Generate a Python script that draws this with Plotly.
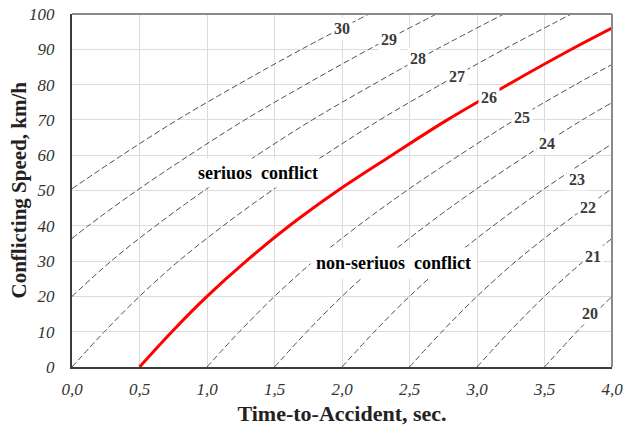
import plotly.graph_objects as go

# Red boundary curve (severity 26): Time-to-Accident vs conflicting speed
ta_26 = [0.50, 0.74, 1.00, 1.29, 1.61, 1.97, 2.37, 2.78, 3.23, 3.70, 4.00]
speed_26 = [0, 10, 20, 30, 40, 50, 60, 70, 80, 90, 96]

# Dashed severity curves
ta_30 = [0.00, 0.37, 0.78, 1.23, 1.70, 2.20]
speed_30 = [50.5, 60, 70, 80, 90, 100]
ta_29 = [0.00, 0.12, 0.48, 0.87, 1.28, 1.73, 2.20, 2.70]
speed_29 = [36.4, 40, 50, 60, 70, 80, 90, 100]
ta_28 = [0.00, 0.29, 0.62, 0.98, 1.37, 1.78, 2.23, 2.70, 3.20]
speed_28 = [20, 30, 40, 50, 60, 70, 80, 90, 100]
ta_27 = [0.00, 0.24, 0.50, 0.79, 1.12, 1.48, 1.87, 2.28, 2.73, 3.20, 3.70]
speed_27 = [0, 10, 20, 30, 40, 50, 60, 70, 80, 90, 100]
ta_25 = [1.00, 1.24, 1.50, 1.79, 2.12, 2.48, 2.87, 3.28, 3.73, 4.00]
speed_25 = [0, 10, 20, 30, 40, 50, 60, 70, 80, 85.7]
ta_24 = [1.50, 1.74, 2.00, 2.29, 2.62, 2.98, 3.37, 3.78, 4.00]
speed_24 = [0, 10, 20, 30, 40, 50, 60, 70, 74.9]
ta_23 = [2.00, 2.24, 2.50, 2.79, 3.12, 3.48, 3.87, 4.00]
speed_23 = [0, 10, 20, 30, 40, 50, 60, 63.2]
ta_22 = [2.50, 2.74, 3.00, 3.29, 3.62, 3.98, 4.00]
speed_22 = [0, 10, 20, 30, 40, 50, 50.5]
ta_21 = [3.00, 3.24, 3.50, 3.79, 4.00]
speed_21 = [0, 10, 20, 30, 36.4]
ta_20 = [3.50, 3.74, 4.00]
speed_20 = [0, 10, 20]

dashed_curves = [
    (ta_30, speed_30), (ta_29, speed_29), (ta_28, speed_28), (ta_27, speed_27),
    (ta_25, speed_25), (ta_24, speed_24), (ta_23, speed_23), (ta_22, speed_22),
    (ta_21, speed_21), (ta_20, speed_20),
]

# Curve label texts and their positions
label_texts = ["30", "29", "28", "27", "26", "25", "24", "23", "22", "21", "20"]
label_ta = [2.00, 2.35, 2.565, 2.85, 3.09, 3.33, 3.52, 3.74, 3.82, 3.86, 3.84]
label_speed = [96.0, 92.8, 87.4, 82.2, 76.4, 70.7, 63.4, 53.0, 45.2, 31.4, 15.2]

x_ticks = [0.0, 0.5, 1.0, 1.5, 2.0, 2.5, 3.0, 3.5, 4.0]
y_ticks = [0, 10, 20, 30, 40, 50, 60, 70, 80, 90, 100]

SERIF = "Liberation Serif, Times New Roman, serif"

fig = go.Figure()
for ta, sp in dashed_curves:
    fig.add_trace(go.Scatter(
        x=ta, y=sp, mode="lines", line_shape="spline",
        line=dict(color="#505050", width=1, dash="6px,3px"),
        hoverinfo="skip", showlegend=False))

fig.add_trace(go.Scatter(
    x=ta_26, y=speed_26, mode="lines", line_shape="spline",
    line=dict(color="#ff0000", width=3),
    showlegend=False))

annotations = []
for t, xa, ya in zip(label_texts, label_ta, label_speed):
    annotations.append(dict(
        x=xa, y=ya, xref="x", yref="y", text="<b>%s</b>" % t, showarrow=False,
        font=dict(family=SERIF, size=16, color="#3a3a3a"),
        bgcolor="white", borderpad=2))

annotations.append(dict(
    x=1.38, y=55.0, xref="x", yref="y", text="<b>seriuos&nbsp;&nbsp;conflict</b>",
    showarrow=False, font=dict(family=SERIF, size=18, color="black"),
    bgcolor="white", borderpad=4))
annotations.append(dict(
    x=2.385, y=29.5, xref="x", yref="y", text="<b>non-seriuos&nbsp;&nbsp;conflict</b>",
    showarrow=False, font=dict(family=SERIF, size=18, color="black"),
    bgcolor="white", borderpad=5))

# Y-axis title as a rotated annotation for precise placement
annotations.append(dict(
    x=-0.1, y=0.5, xref="paper", yref="paper",
    text="<b>Conflicting Speed, km/h</b>", textangle=-90, showarrow=False,
    xanchor="center", yanchor="middle",
    font=dict(family=SERIF, size=21, color="#222222")))

shapes = [
    dict(type="line", xref="paper", yref="paper", x0=0, x1=1, y0=1, y1=1,
         line=dict(color="#8a8a8a", width=2)),
    dict(type="line", xref="paper", yref="paper", x0=1, x1=1, y0=0, y1=1,
         line=dict(color="#8a8a8a", width=2)),
]

fig.update_layout(
    width=625, height=426,
    margin=dict(l=72, r=13, t=14, b=59),
    paper_bgcolor="white", plot_bgcolor="white",
    separators=", ",
    annotations=annotations,
    shapes=shapes,
    xaxis=dict(
        range=[0, 4.0], tickvals=x_ticks, tickformat=".1f",
        showgrid=True, gridcolor="#dcdcdc", gridwidth=1,
        showline=True, linecolor="#3c3c3c", linewidth=2, mirror=False,
        zeroline=False, ticks="", automargin=False, ticklabelstandoff=6,
        tickfont=dict(family=SERIF, size=17, color="#333333", style="italic"),
        title=dict(text="<b>Time-to-Accident, sec.</b>", standoff=8,
                   font=dict(family=SERIF, size=22, color="#222222")),
    ),
    yaxis=dict(
        range=[0, 100], tickvals=y_ticks,
        showgrid=True, gridcolor="#dcdcdc", gridwidth=1,
        showline=True, linecolor="#3c3c3c", linewidth=2, mirror=False,
        zeroline=False, ticks="", automargin=False, ticklabelstandoff=12,
        tickfont=dict(family=SERIF, size=17, color="#333333", style="italic"),
    ),
)

fig.write_html("out.html", config={"displayModeBar": False},
               post_script="document.body.style.margin='0';")
